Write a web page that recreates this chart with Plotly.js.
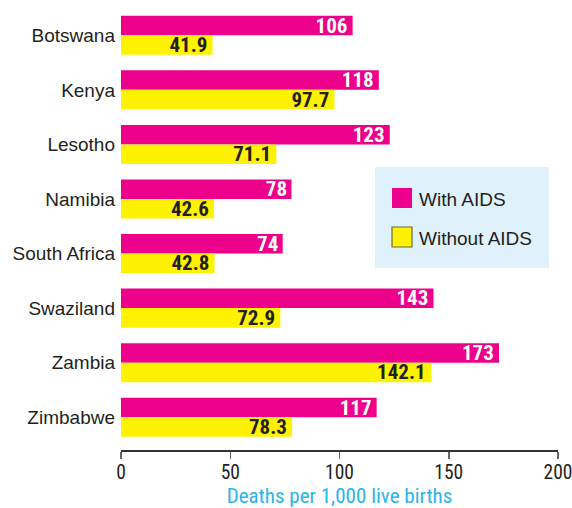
<!DOCTYPE html>
<html>
<head>
<meta charset="utf-8">
<script src="https://cdn.plot.ly/plotly-3.0.1.min.js"></script>
<style>
html,body{margin:0;padding:0;background:#fff;}
#chart{width:572px;height:508px;}
#chart .xtick text, #chart .g-xtitle text, #chart .bartext { font-stretch: condensed; }
</style>
</head>
<body>
<div id="chart"></div>
<script>
const countries = ["Botswana", "Kenya", "Lesotho", "Namibia", "South Africa", "Swaziland", "Zambia", "Zimbabwe"];
const withAids = [106, 118, 123, 78, 74, 143, 173, 117];
const withoutAids = [41.9, 97.7, 71.1, 42.6, 42.8, 72.9, 142.1, 78.3];
const withLabels = ["106", "118", "123", "78", "74", "143", "173", "117"];
const withoutLabels = ["41.9", "97.7", "71.1", "42.6", "42.8", "72.9", "142.1", "78.3"];
const xTicks = [0, 50, 100, 150, 200];
const seriesNames = ["With AIDS", "Without AIDS"];

const MAGENTA = "#ec008c";
const YELLOW = "#fff200";
const NARROW = "Roboto, 'Liberation Sans', sans-serif";
const SANS = "'Liberation Sans', Arial, sans-serif";

const traces = [
  {
    type: "bar", orientation: "h", name: seriesNames[0],
    y: countries, x: withAids, text: withLabels,
    textposition: "inside", insidetextanchor: "end", constraintext: "none", textangle: 0,
    textfont: {family: NARROW, size: 21, color: "#ffffff", weight: "bold"},
    marker: {color: MAGENTA, line: {width: 0}},
    hoverinfo: "x+y"
  },
  {
    type: "bar", orientation: "h", name: seriesNames[1],
    y: countries, x: withoutAids, text: withoutLabels,
    textposition: "inside", insidetextanchor: "end", constraintext: "none", textangle: 0,
    textfont: {family: NARROW, size: 21, color: "#231f20", weight: "bold"},
    marker: {color: YELLOW, line: {width: 0}},
    hoverinfo: "x+y"
  }
];

const PW = 437; // plot width in px (l=121, r=14)
const px = v => (v - 121) / PW;
const py = v => (450 - v) / 442;
const layout = {
  width: 572, height: 508,
  margin: {l: 121, r: 14, t: 8, b: 58},
  paper_bgcolor: "#ffffff", plot_bgcolor: "#ffffff",
  barmode: "group", bargap: 0.285, bargroupgap: 0,
  showlegend: false,
  uniformtext: {mode: "show", minsize: 21},
  xaxis: {
    range: [0, 200], tickvals: xTicks, ticktext: xTicks.map(String),
    ticklabeloverflow: "allow",
    ticklabelstandoff: -3,
    showgrid: false, zeroline: false,
    showline: true, linecolor: "#333333", linewidth: 1.5,
    ticks: "outside", ticklen: 7, tickwidth: 1.5, tickcolor: "#666666",
    tickfont: {family: NARROW, size: 19.5, color: "#231f20"},
    title: {text: "Deaths per 1,000 live births", font: {family: NARROW, size: 21, color: "#29b4ec"}, standoff: 6},
    fixedrange: true
  },
  yaxis: {
    type: "category", categoryorder: "array", categoryarray: countries,
    range: [7.6, -0.5],
    showgrid: false, zeroline: false, showline: false, ticks: "",
    ticklabelstandoff: 5,
    tickfont: {family: SANS, size: 19, color: "#231f20"},
    fixedrange: true
  },
  shapes: [
    {type: "rect", xref: "paper", yref: "paper", x0: px(375), x1: px(549), y0: py(268), y1: py(167),
     fillcolor: "#dff1fb", line: {width: 0}, layer: "below"},
    {type: "rect", xref: "paper", yref: "paper",
     x0: px(392), x1: px(412), y0: py(208), y1: py(188),
     fillcolor: MAGENTA, line: {width: 0}},
    {type: "rect", xref: "paper", yref: "paper",
     x0: px(392), x1: px(412), y0: py(247), y1: py(227),
     fillcolor: YELLOW, line: {width: 1.2, color: "#6b6a3a"}}
  ],
  annotations: [
    {xref: "paper", yref: "paper", x: px(417), y: py(199), xanchor: "left", yanchor: "middle",
     text: seriesNames[0], showarrow: false, font: {family: SANS, size: 19, color: "#231f20"}},
    {xref: "paper", yref: "paper", x: px(417), y: py(239), xanchor: "left", yanchor: "middle",
     text: seriesNames[1], showarrow: false, font: {family: SANS, size: 19, color: "#231f20"}}
  ]
};

Plotly.newPlot("chart", traces, layout, {displayModeBar: false, staticPlot: true});
</script>
</body>
</html>
